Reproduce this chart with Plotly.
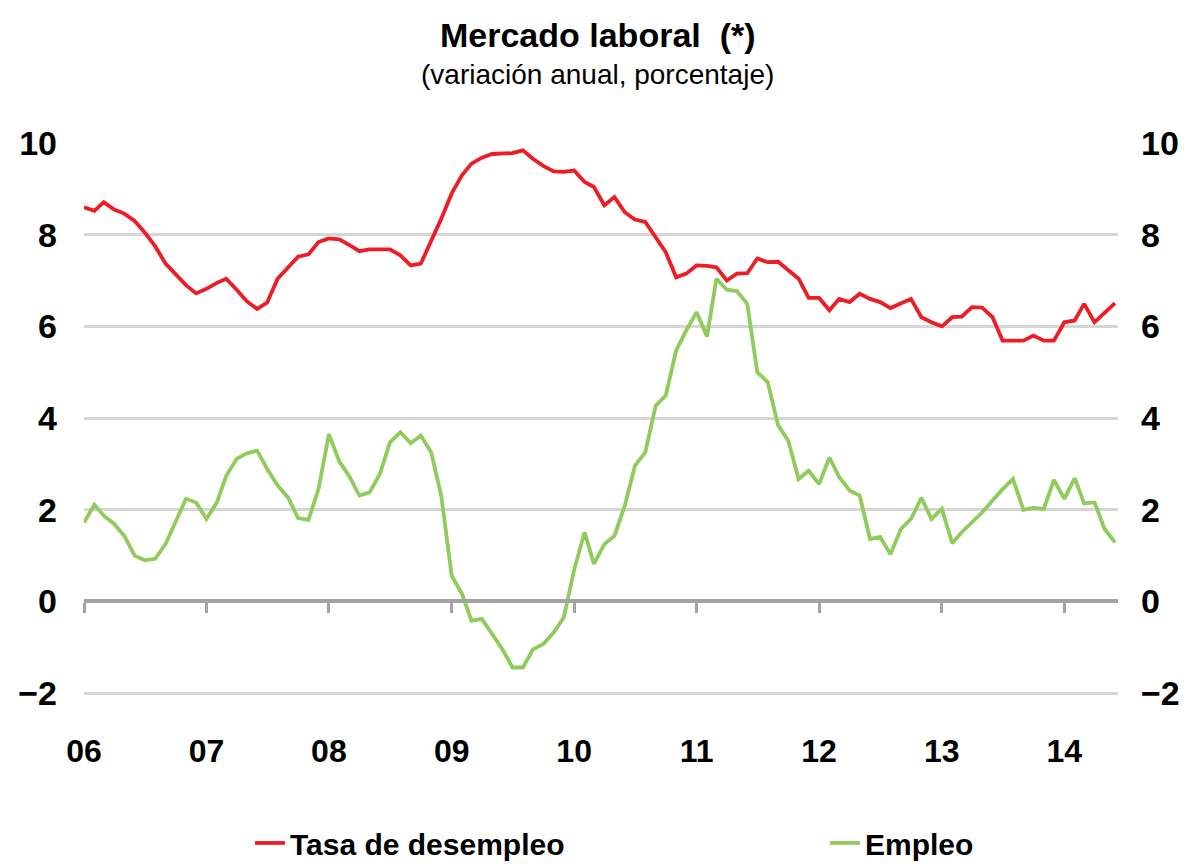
import pandas as pd
import plotly.graph_objects as go

start_month = "2006-01-01"
n_months = 102
year_ticks = ["2006-01-01", "2007-01-01", "2008-01-01", "2009-01-01", "2010-01-01",
              "2011-01-01", "2012-01-01", "2013-01-01", "2014-01-01"]
year_labels = ["06", "07", "08", "09", "10", "11", "12", "13", "14"]
y_ticks = [-2, 0, 2, 4, 6, 8, 10]

desempleo = [
    8.60, 8.52, 8.71, 8.55, 8.46, 8.30, 8.05, 7.75, 7.37, 7.15, 6.90, 6.72,
    6.82, 6.95, 7.04, 6.80, 6.55, 6.38, 6.52, 7.04, 7.28, 7.52, 7.57, 7.84,
    7.92, 7.90, 7.78, 7.64, 7.68, 7.69, 7.68, 7.55, 7.33, 7.37, 7.85, 8.35,
    8.90, 9.30, 9.55, 9.68, 9.76, 9.78, 9.78, 9.84, 9.65, 9.50, 9.38, 9.37,
    9.40, 9.15, 9.04, 8.64, 8.82, 8.49, 8.33, 8.28, 7.95, 7.62, 7.07, 7.15,
    7.33, 7.32, 7.29, 7.00, 7.15, 7.16, 7.48, 7.40, 7.41, 7.22, 7.04, 6.62,
    6.62, 6.35, 6.60, 6.53, 6.71, 6.60, 6.53, 6.40, 6.51, 6.60, 6.20, 6.09,
    6.00, 6.20, 6.21, 6.42, 6.41, 6.20, 5.69, 5.69, 5.69, 5.80, 5.69, 5.69,
    6.09, 6.13, 6.49, 6.09, 6.30, 6.51,
]

empleo = [
    1.72, 2.11, 1.87, 1.69, 1.43, 1.00, 0.90, 0.93, 1.25, 1.76, 2.24, 2.16,
    1.80, 2.16, 2.74, 3.11, 3.23, 3.29, 2.89, 2.53, 2.27, 1.82, 1.78, 2.45,
    3.65, 3.05, 2.74, 2.31, 2.38, 2.78, 3.47, 3.69, 3.45, 3.62, 3.25, 2.30,
    0.56, 0.16, -0.42, -0.38, -0.71, -1.04, -1.44, -1.44, -1.04, -0.93, -0.68, -0.35,
    0.69, 1.51, 0.82, 1.25, 1.43, 2.09, 2.96, 3.25, 4.27, 4.49, 5.47, 5.91,
    6.31, 5.78, 7.04, 6.80, 6.77, 6.49, 5.00, 4.78, 3.84, 3.51, 2.67, 2.85,
    2.56, 3.14, 2.71, 2.42, 2.31, 1.36, 1.41, 1.03, 1.58, 1.80, 2.26, 1.80,
    2.02, 1.27, 1.51, 1.72, 1.94, 2.20, 2.45, 2.67, 2.00, 2.04, 2.02, 2.65,
    2.24, 2.69, 2.14, 2.16, 1.58, 1.29,
]

months = pd.date_range(start_month, periods=n_months, freq="MS")

FONT = "Liberation Sans, Arial, sans-serif"
RED = "#ee1c24"
GREEN = "#8fcc5c"
GRID = "#d6d6d6"
AXIS = "#a3a3a3"

y_range = [-2.04, 10.0]
zero_pos = (0 - y_range[0]) / (y_range[1] - y_range[0])

fig = go.Figure()
fig.add_trace(go.Scatter(x=months, y=desempleo, mode="lines", name="Tasa de desempleo",
                         line=dict(color=RED, width=3.8), xaxis="x", yaxis="y",
                         legend="legend"))
fig.add_trace(go.Scatter(x=months, y=empleo, mode="lines", name="Empleo",
                         line=dict(color=GREEN, width=3.8), xaxis="x", yaxis="y2",
                         legend="legend2"))

x_range = ["2006-01-01", "2014-06-10"]
legend_font = dict(family=FONT, size=30, weight="bold", color="black")

fig.update_layout(
    width=1195, height=864,
    margin=dict(l=76, r=85, t=135, b=177, autoexpand=False),
    paper_bgcolor="white", plot_bgcolor="white",
    font=dict(family=FONT, color="black"),
    showlegend=True,
    legend=dict(orientation="h", x=0.1605, xanchor="left", y=-0.268, yanchor="middle",
                font=legend_font, itemwidth=30, bgcolor="rgba(0,0,0,0)"),
    legend2=dict(orientation="h", x=0.7166, xanchor="left", y=-0.268, yanchor="middle",
                 font=legend_font, itemwidth=30, bgcolor="rgba(0,0,0,0)"),
    xaxis=dict(
        type="date", range=x_range, anchor="free", position=zero_pos,
        tickvals=year_ticks, ticktext=year_labels,
        showline=True, linecolor=AXIS, linewidth=4,
        ticks="outside", ticklen=10, tickwidth=3, tickcolor=AXIS,
        ticklabelstandoff=110,
        tickfont=dict(family=FONT, size=32, weight="bold", color="black"),
        showgrid=False, zeroline=False, automargin=False,
    ),
    yaxis=dict(
        range=y_range, tickvals=y_ticks, showgrid=True, gridcolor=GRID, gridwidth=2.5,
        zeroline=False, showline=False, ticks="", ticklabelstandoff=26,
        tickfont=dict(family=FONT, size=34, weight="bold", color="black"),
        automargin=False,
    ),
    yaxis2=dict(
        range=y_range, tickvals=y_ticks, overlaying="y", side="right", anchor="x",
        showgrid=False, zeroline=False, showline=False, ticks="", ticklabelstandoff=22,
        tickfont=dict(family=FONT, size=34, weight="bold", color="black"),
        automargin=False,
    ),
    annotations=[
        dict(text="<b>Mercado laboral  (*)</b>", xref="paper", yref="paper",
             x=0.497, y=1.196, xanchor="center", yanchor="middle", showarrow=False,
             font=dict(family=FONT, size=34, color="black")),
        dict(text="(variación anual, porcentaje)", xref="paper", yref="paper",
             x=0.497, y=1.124, xanchor="center", yanchor="middle", showarrow=False,
             font=dict(family=FONT, size=28, color="black")),
    ],
)

fig.write_html("out.html")
